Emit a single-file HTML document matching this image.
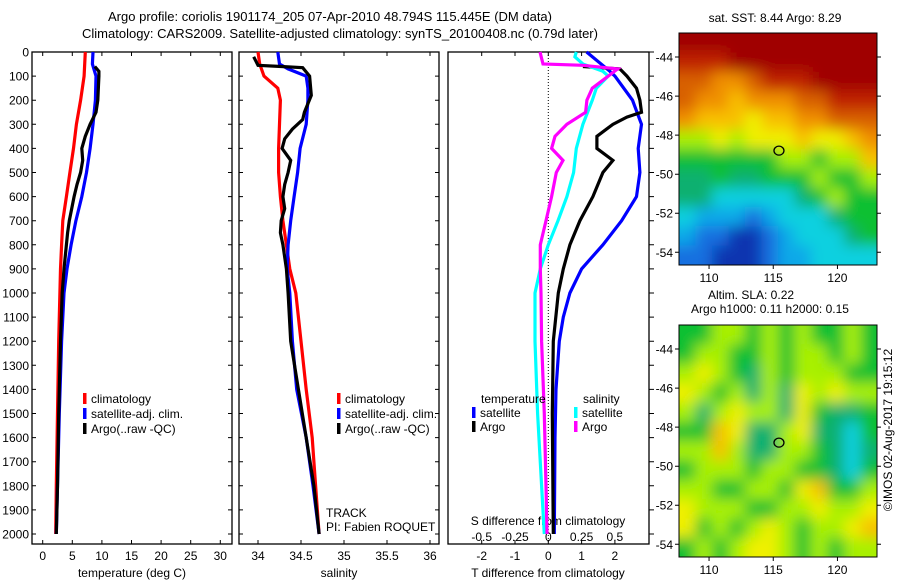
<!DOCTYPE html>
<html><head><meta charset="utf-8"><style>
html,body{margin:0;padding:0;background:#fff;}
svg{display:block;font-family:"Liberation Sans",sans-serif;font-size:12px;}
</style></head><body>
<svg id="c" width="900" height="580" viewBox="0 0 900 580">
<defs>
<filter id="blr" x="-0.1" y="-0.1" width="1.2" height="1.2"><feGaussianBlur stdDeviation="7"/></filter>
<clipPath id="clip1"><rect x="679" y="33" width="198" height="232"/></clipPath>
<clipPath id="clip2"><rect x="679" y="325" width="198" height="232"/></clipPath>
</defs>
<text x="330" y="21" text-anchor="middle" font-size="13">Argo profile: coriolis 1901174_205 07-Apr-2010 48.794S 115.445E (DM data)</text>
<text x="340" y="38" text-anchor="middle" font-size="13">Climatology: CARS2009. Satellite-adjusted climatology: synTS_20100408.nc (0.79d later)</text>
<g id="g"></g>
</svg>
<script>
// ---------- DATA ----------
const depthTicks=[0,100,200,300,400,500,600,700,800,900,1000,1100,1200,1300,1400,1500,1600,1700,1800,1900,2000];
const tempTicks=[0,5,10,15,20,25,30];
const salTicks=[34,34.5,35,35.5,36];
const tdiffTicks=[-2,-1,0,1,2];
const sdiffTicks=[-0.5,-0.25,0,0.25,0.5];
const sdiffLabels=["-0.5","-0.25","0","0.25","0.5"];

const tClimDepth=[0,100,200,300,400,500,600,700,800,900,1000,1200,1500,1800,2000];
const tClim=[7.2,7.0,6.4,5.7,5.2,4.6,4.0,3.4,3.2,3.0,2.9,2.7,2.5,2.3,2.2];
const tSatDepth=[0,50,100,200,300,400,500,600,700,800,900,1000,1200,1500,1800,2000];
const tSat=[8.5,8.4,9.0,8.9,8.5,8.0,7.4,6.6,5.6,4.8,4.1,3.6,3.2,2.8,2.5,2.3];
const tArgoDepth=[60,80,100,200,250,300,350,400,450,500,550,600,650,700,750,800,850,900,1000,1200,1500,1800,2000];
const tArgo=[8.8,9.5,9.5,9.3,9.0,8.0,7.2,6.6,6.75,6.4,5.8,5.3,4.9,4.5,4.2,4.0,3.8,3.6,3.3,3.0,2.7,2.5,2.3];

const sClimDepth=[0,50,100,150,200,300,400,500,600,700,800,900,1000,1200,1400,1600,1800,2000];
const sClim=[34.0,34.02,34.07,34.23,34.26,34.25,34.24,34.24,34.26,34.29,34.33,34.37,34.44,34.5,34.56,34.63,34.67,34.71];
const sSatDepth=[0,50,70,100,150,200,300,400,500,600,700,800,900,1000,1200,1400,1600,1800,2000];
const sSat=[34.23,34.25,34.35,34.56,34.58,34.58,34.56,34.49,34.46,34.42,34.38,34.35,34.34,34.37,34.4,34.45,34.56,34.64,34.71];
const sArgoDepth=[20,55,60,65,100,180,250,280,320,360,400,450,500,550,600,650,700,750,800,900,1000,1200,1400,1600,1800,2000];
const sArgo=[33.95,34.0,34.27,34.52,34.6,34.62,34.54,34.52,34.4,34.31,34.28,34.38,34.35,34.31,34.29,34.31,34.27,34.26,34.29,34.33,34.35,34.38,34.47,34.56,34.65,34.71];

const dTSatDepth=[0,80,100,200,300,400,500,600,700,800,900,1000,1100,1200,1400,1600,2000];
const dTSat=[1.15,1.85,2.0,2.53,2.8,2.7,2.75,2.65,2.2,1.64,1.0,0.65,0.45,0.33,0.23,0.2,0.18];
const dTArgoDepth=[60,70,100,150,200,250,270,300,350,400,450,500,600,700,800,900,1000,1200,1500,2000];
const dTArgo=[1.04,2.15,2.36,2.65,2.75,2.8,2.36,1.94,1.46,1.46,1.94,1.64,1.34,0.95,0.65,0.45,0.3,0.15,0.12,0.15];
const dSSatDepth=[0,20,50,80,100,150,200,300,400,500,600,700,800,900,1000,1200,1500,1800,2000];
const dSSat=[0.21,0.2,0.26,0.41,0.45,0.36,0.33,0.26,0.21,0.19,0.14,0.073,0,-0.06,-0.1,-0.1,-0.08,-0.05,-0.03];
const dSArgoDepth=[0,50,55,70,100,150,200,250,300,350,400,450,500,600,700,800,900,1000,1200,1500,1800,2000];
const dSArgo=[-0.062,-0.04,0.26,0.52,0.45,0.33,0.29,0.28,0.14,0.05,0.025,0.11,0.06,0.025,-0.017,-0.06,-0.06,-0.055,-0.05,-0.03,-0.017,-0.01];

const mapLonTicks=[110,115,120];
const mapLatTicks=[-44,-46,-48,-50,-52,-54];
const argoLon=115.445, argoLat=-48.794;
const sstGrid=[
[12,12,12,12,12,12,12,12,12,12,12,12],
[11,11,11,12,12,12,12,12,12,12,12,12],
[10,10,9,9,10,11,11,11,12,12,12,12],
[10,9,9,8,9,9,9,10,10,11,11,11],
[9,8,8,8,7,8,8,9,9,10,10,10],
[6,6,7,6,7,7,7,8,7,7,8,9],
[5,5,5,5,5,5,6,6,5,6,6,8],
[4,4,5,4,4,5,5,5,6,5,5,6],
[4,4,3,3,3,3,3,4,5,6,5,5],
[3,2,2,2,1,2,3,3,3,4,5,5],
[2,1,1,0,0,1,2,3,3,3,4,5],
[1,1,0,0,0,1,2,2,3,3,3,3]];
const slaGrid=[
[5,5,6,6,5,6,5,6,5,5,6,5],
[5,6,6,5,5,6,5,6,6,5,6,5],
[6,7,6,5,4,6,5,6,6,6,5,5],
[7,6,5,6,4,6,4,7,6,7,6,6],
[6,4,6,7,6,6,4,7,5,4,4,5],
[5,5,8,7,4,4,6,7,4,4,3,5],
[6,6,8,6,4,4,6,6,5,4,3,4],
[5,6,6,6,5,6,6,5,5,4,3,5],
[6,6,5,5,6,6,5,7,8,5,5,6],
[7,6,6,6,5,5,6,6,7,6,6,7],
[7,5,6,5,6,7,6,5,6,6,7,8],
[5,6,5,6,7,7,6,5,6,5,6,6]];
const palette=["#1034b0","#1870e0","#10a8e8","#10d0e0","#10b070","#10c030","#a8f000","#f0f000","#f8c000","#f09000","#d86000","#c02000","#a00000"];

// ---------- HELPERS ----------
const NS="http://www.w3.org/2000/svg";
const G=document.getElementById('g');
function mk(tag,attrs,parent){const e=document.createElementNS(NS,tag);for(const k in attrs)e.setAttribute(k,attrs[k]);(parent||G).appendChild(e);return e;}
const Y0=52,Y1=544;
const yD=d=>Y0+d*0.241;
const xT=v=>42.7+v*5.92;
const xS=v=>258+(v-34)*86;
const xDT=v=>548.3+v*33.3;
const xDS=v=>548.3+v*133.2;
function txt(x,y,s,anchor,name,extra){const t=mk('text',Object.assign({x:x,y:y,'text-anchor':anchor||'middle'},extra||{}));t.textContent=s;


return t;}
function line(xf,vals,depths,color,name){
 const pts=vals.map((v,i)=>xf(v).toFixed(1)+','+yD(depths[i]).toFixed(1)).join(' ');
 const p=mk('polyline',{points:pts,fill:'none',stroke:color,'stroke-width':3.2,'stroke-linejoin':'miter'});
 
 
}
function panel(x0,x1,name){
 const r=mk('rect',{x:x0,y:Y0,width:x1-x0,height:Y1-Y0,fill:'none',stroke:'#000','stroke-width':1.3});
 
 
}
function vtick(x,name){
 const t=mk('path',{d:`M${x},${Y0}v4M${x},${Y1}v-4`,stroke:'#000','stroke-width':1});
 
 
}
// ---------- PANELS ----------
panel(32,232,'temperature-panel');
panel(239,439,'salinity-panel');
panel(448,649,'difference-panel');
depthTicks.forEach(d=>{
 const y=yD(d);
 const t=mk('path',{d:`M32,${y}h4M232,${y}h-4M239,${y}h4M439,${y}h-4M649,${y}h5`,stroke:'#000','stroke-width':1});
 
 
 txt(29,y+4.5,String(d),'end','depth-tick-label');
});
tempTicks.forEach(v=>{vtick(xT(v),'temperature-tick');txt(xT(v),560,String(v),'middle','temperature-tick-label');});
txt(132,577,'temperature (deg C)','middle','temperature-axis-title');
salTicks.forEach(v=>{vtick(xS(v),'salinity-tick');txt(xS(v),560,String(v),'middle','salinity-tick-label');});
txt(339,577,'salinity','middle','salinity-axis-title');
tdiffTicks.forEach(v=>{vtick(xDT(v),'tdiff-tick');txt(xDT(v),560,String(v),'middle','tdiff-tick-label');});
txt(548,577,'T difference from climatology','middle','tdiff-axis-title');
sdiffTicks.forEach((v,i)=>{txt(xDS(v),541,sdiffLabels[i],'middle','sdiff-tick-label');});
txt(548,525,'S difference from climatology','middle','sdiff-axis-title');
{const z=mk('line',{x1:548.3,y1:Y0,x2:548.3,y2:Y1,stroke:'#000','stroke-width':1,'stroke-dasharray':'1,2'});
 
 }

line(xT,tClim,tClimDepth,'#ff0000','temp-climatology-line');
line(xT,tSat,tSatDepth,'#0000ff','temp-satellite-line');
line(xT,tArgo,tArgoDepth,'#000000','temp-argo-line');
line(xS,sClim,sClimDepth,'#ff0000','sal-climatology-line');
line(xS,sSat,sSatDepth,'#0000ff','sal-satellite-line');
line(xS,sArgo,sArgoDepth,'#000000','sal-argo-line');
line(xDT,dTSat,dTSatDepth,'#0000ff','tdiff-satellite-line');
line(xDT,dTArgo,dTArgoDepth,'#000000','tdiff-argo-line');
line(xDS,dSSat,dSSatDepth,'#00ffff','sdiff-satellite-line');
line(xDS,dSArgo,dSArgoDepth,'#ff00ff','sdiff-argo-line');

// legends
function leg(x,y,color,label,name){
 const b=mk('rect',{x:x,y:y-10,width:3.5,height:11,fill:color});
 
 
 txt(x+8,y,label,'start',name);
}
leg(83,403,'#ff0000','climatology','legend-temp-climatology');
leg(83,418,'#0000ff','satellite-adj. clim.','legend-temp-satellite');
leg(83,433,'#000000','Argo(..raw -QC)','legend-temp-argo');
leg(337,403,'#ff0000','climatology','legend-sal-climatology');
leg(337,418,'#0000ff','satellite-adj. clim.','legend-sal-satellite');
leg(337,433,'#000000','Argo(..raw -QC)','legend-sal-argo');
txt(481,403,'temperature','start','legend-temperature-heading');
txt(583,403,'salinity','start','legend-salinity-heading');
leg(472,417,'#0000ff','satellite','legend-tdiff-satellite');
leg(472,431,'#000000','Argo','legend-tdiff-argo');
leg(574,417,'#00ffff','satellite','legend-sdiff-satellite');
leg(574,431,'#ff00ff','Argo','legend-sdiff-argo');
txt(326,517,'TRACK','start','track-label');
txt(326,531,'PI: Fabien ROQUET','start','pi-label');

// ---------- MAPS ----------
const MX0=679,MX1=877,MW=198,MH=232,LON0=107.66,LON1=123.08,LAT0=-42.77,LAT1=-54.65;
const mx=lon=>MX0+(lon-LON0)/(LON1-LON0)*MW;
function drawMap(top,grid,clip,name){
 const g=mk('g',{'clip-path':`url(#${clip})`});
 
 
 const inner=mk('g',{filter:'url(#blr)'},g);
 const rows=grid.length,cols=grid[0].length,cw=MW/cols,ch=MH/rows;
 grid.forEach((row,r)=>row.forEach((c,k)=>{
   const x=MX0+k*cw-(k===0?20:0), y=top+r*ch-(r===0?20:0);
   const w=cw+1+(k===0?20:0)+(k===cols-1?20:0), h=ch+1+(r===0?20:0)+(r===rows-1?20:0);
   mk('rect',{x:x,y:y,width:w,height:h,fill:palette[c]},inner);
 }));
 const my=lat=>top+(lat-LAT0)/(LAT1-LAT0)*MH;
 const fr=mk('rect',{x:MX0,y:top,width:MW,height:MH,fill:'none',stroke:'#000','stroke-width':1});
 
 
 mapLatTicks.forEach(l=>{const y=my(l);mk('path',{d:`M${MX0},${y}h-4M${MX1},${y}h4`,stroke:'#000'});txt(MX0-6,y+4.5,String(l),'end',name+'-lat-label');});
 mapLonTicks.forEach(l=>{const x=mx(l);mk('path',{d:`M${x},${top+MH}v4`,stroke:'#000'});txt(x,top+MH+17,String(l),'middle',name+'-lon-label');});
 const c=mk('ellipse',{cx:mx(argoLon),cy:my(argoLat),rx:5,ry:4.5,fill:'none',stroke:'#000','stroke-width':1.3});
 
 
}
drawMap(33,sstGrid,'clip1','sst-map');
drawMap(325,slaGrid,'clip2','sla-map');
txt(775,22,'sat. SST: 8.44 Argo: 8.29','middle','sst-map-title');
txt(708,299,'Altim. SLA: 0.22','start','sla-map-title');
txt(770,313,'Argo h1000: 0.11 h2000: 0.15','middle','sla-map-subtitle');
txt(0,0,'©IMOS 02-Aug-2017 19:15:12','middle','imos-credit',{transform:'translate(892,430) rotate(-90)'});
</script>
</body></html>
